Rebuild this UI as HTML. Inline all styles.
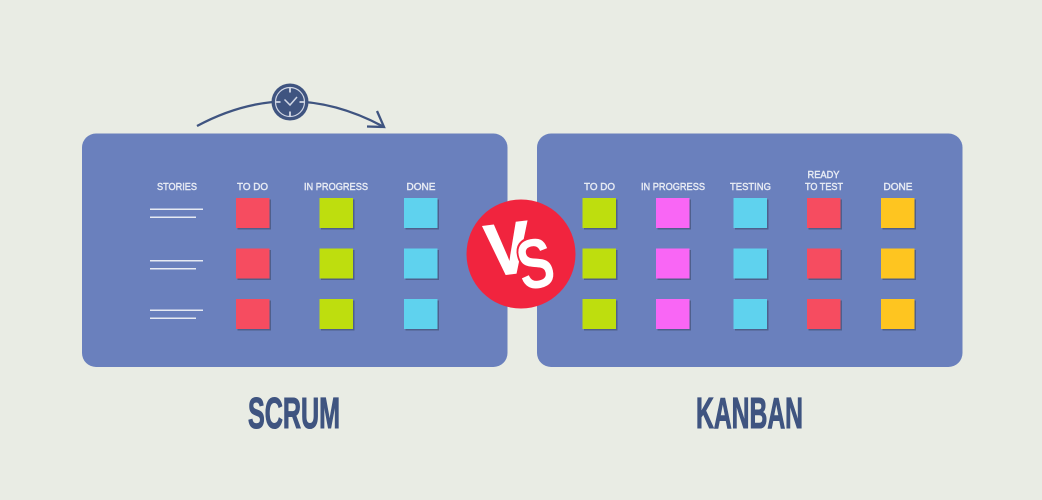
<!DOCTYPE html>
<html><head><meta charset="utf-8"><style>html,body{margin:0;padding:0;background:#e9ece4}svg{display:block}</style></head><body>
<svg xmlns="http://www.w3.org/2000/svg" width="1042" height="500" viewBox="0 0 1042 500">
<rect width="1042" height="500" fill="#e9ece4"/>
<rect x="82" y="133.500" width="425.500" height="233.500" rx="14" fill="#6a80bd"/>
<rect x="537" y="133.500" width="425.500" height="233.500" rx="14" fill="#6a80bd"/>
<path d="M197 126 Q290 76 384 127" fill="none" stroke="#3f5480" stroke-width="2.300"/>
<path d="M377 111 L384 127 L367 126.500" fill="none" stroke="#3f5480" stroke-width="2.300"/>
<circle cx="290" cy="102" r="18.500" fill="#3f5480"/>
<circle cx="290" cy="102" r="14.500" fill="none" stroke="#d0d6e4" stroke-width="1.200"/>
<path d="M290 87.500v5M290 111.500v5M275.500 102h5M299.500 102h5" stroke="#d0d6e4" stroke-width="1.800"/>
<path d="M284.500 99.500 L290 105 L297 97" fill="none" stroke="#d0d6e4" stroke-width="1.500"/>
<g font-family="Liberation Sans, sans-serif" font-size="10.500" fill="#e6eaf3" stroke="#e6eaf3" stroke-width="0.450" text-anchor="middle">
<text x="177" y="190" textLength="40" lengthAdjust="spacingAndGlyphs">STORIES</text>
<text x="252.500" y="190" textLength="31" lengthAdjust="spacingAndGlyphs">TO DO</text>
<text x="336" y="190" textLength="64" lengthAdjust="spacingAndGlyphs">IN PROGRESS</text>
<text x="421" y="190" textLength="29" lengthAdjust="spacingAndGlyphs">DONE</text>
<text x="599.500" y="190" textLength="31" lengthAdjust="spacingAndGlyphs">TO DO</text>
<text x="673" y="190" textLength="64" lengthAdjust="spacingAndGlyphs">IN PROGRESS</text>
<text x="750.500" y="190" textLength="41" lengthAdjust="spacingAndGlyphs">TESTING</text>
<text x="823.500" y="178" textLength="32" lengthAdjust="spacingAndGlyphs">READY</text>
<text x="824" y="190" textLength="38" lengthAdjust="spacingAndGlyphs">TO TEST</text>
<text x="898" y="190" textLength="29" lengthAdjust="spacingAndGlyphs">DONE</text>
</g>
<g fill="#e6eaf3">
<rect x="150" y="208.500" width="53" height="1.500"/><rect x="150" y="216.500" width="46" height="1.500"/>
<rect x="150" y="260" width="53" height="1.500"/><rect x="150" y="268" width="46" height="1.500"/>
<rect x="150" y="309.500" width="53" height="1.500"/><rect x="150" y="317.500" width="46" height="1.500"/>
</g>
<defs>
<g id="sh"><rect x="1.500" y="1.500" width="33.500" height="30" fill="#4f5f8c"/></g>
</defs>
<g>
<use href="#sh" x="236" y="198"/><use href="#sh" x="236" y="248.500"/><use href="#sh" x="236" y="299"/>
<use href="#sh" x="319.500" y="198"/><use href="#sh" x="319.500" y="248.500"/><use href="#sh" x="319.500" y="299"/>
<use href="#sh" x="404" y="198"/><use href="#sh" x="404" y="248.500"/><use href="#sh" x="404" y="299"/>
<use href="#sh" x="582.500" y="198"/><use href="#sh" x="582.500" y="248.500"/><use href="#sh" x="582.500" y="299"/>
<use href="#sh" x="656" y="198"/><use href="#sh" x="656" y="248.500"/><use href="#sh" x="656" y="299"/>
<use href="#sh" x="733.500" y="198"/><use href="#sh" x="733.500" y="248.500"/><use href="#sh" x="733.500" y="299"/>
<use href="#sh" x="807" y="198"/><use href="#sh" x="807" y="248.500"/><use href="#sh" x="807" y="299"/>
<use href="#sh" x="881" y="198"/><use href="#sh" x="881" y="248.500"/><use href="#sh" x="881" y="299"/>
</g>
<g fill="#f64c60"><rect x="236" y="198" width="33.500" height="30"/><rect x="236" y="248.500" width="33.500" height="30"/><rect x="236" y="299" width="33.500" height="30"/>
<rect x="807" y="198" width="33.500" height="30"/><rect x="807" y="248.500" width="33.500" height="30"/><rect x="807" y="299" width="33.500" height="30"/></g>
<g fill="#bede0e"><rect x="319.500" y="198" width="33.500" height="30"/><rect x="319.500" y="248.500" width="33.500" height="30"/><rect x="319.500" y="299" width="33.500" height="30"/>
<rect x="582.500" y="198" width="33.500" height="30"/><rect x="582.500" y="248.500" width="33.500" height="30"/><rect x="582.500" y="299" width="33.500" height="30"/></g>
<g fill="#5fd2ee"><rect x="404" y="198" width="33.500" height="30"/><rect x="404" y="248.500" width="33.500" height="30"/><rect x="404" y="299" width="33.500" height="30"/>
<rect x="733.500" y="198" width="33.500" height="30"/><rect x="733.500" y="248.500" width="33.500" height="30"/><rect x="733.500" y="299" width="33.500" height="30"/></g>
<g fill="#f966f5"><rect x="656" y="198" width="33.500" height="30"/><rect x="656" y="248.500" width="33.500" height="30"/><rect x="656" y="299" width="33.500" height="30"/></g>
<g fill="#fec520"><rect x="881" y="198" width="33.500" height="30"/><rect x="881" y="248.500" width="33.500" height="30"/><rect x="881" y="299" width="33.500" height="30"/></g>
<circle cx="521" cy="254" r="54.500" fill="#f1243e"/>
<g font-family="Liberation Sans, sans-serif" font-weight="bold" fill="#fff">
<text transform="translate(489 276) rotate(-7) scale(0.92 1)" font-size="72" stroke="#fff" stroke-width="2">V</text>
<text transform="translate(523 291) rotate(-12) scale(0.72 0.95)" font-size="74" stroke="#f1243e" stroke-width="5">S</text>
<text transform="translate(523 291) rotate(-12) scale(0.72 0.95)" font-size="74">S</text>
</g>
<g font-family="Liberation Sans, sans-serif" font-weight="bold" fill="#3f5480" font-size="44" stroke="#3f5480" stroke-width="1.100">
<text x="248" y="428" textLength="92" lengthAdjust="spacingAndGlyphs">SCRUM</text>
<text x="696" y="428" textLength="107" lengthAdjust="spacingAndGlyphs">KANBAN</text>
</g>
</svg>
</body></html>
